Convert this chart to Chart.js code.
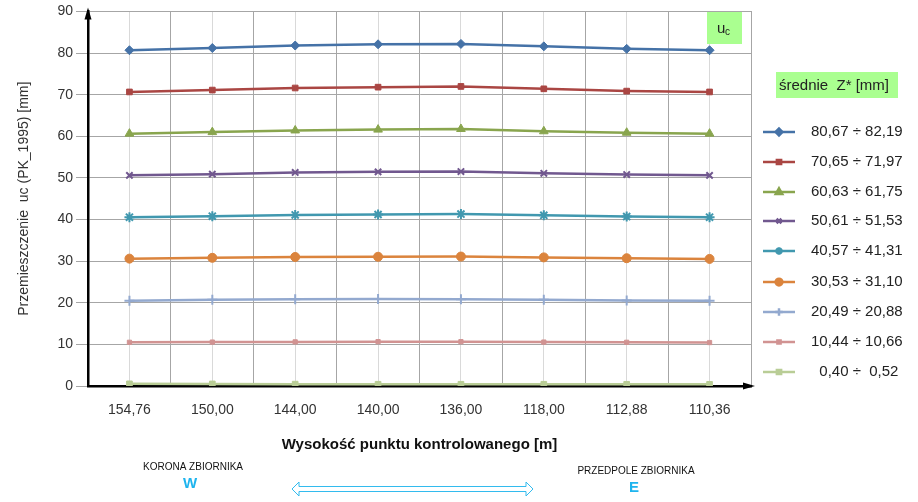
<!DOCTYPE html>
<html>
<head>
<meta charset="utf-8">
<script src="https://cdn.jsdelivr.net/npm/chart.js@4.4.1/dist/chart.umd.min.js"></script>
<style>
  html, body { margin: 0; padding: 0; background: #fff; }
  #wrap { width: 918px; height: 502px; position: relative; }
</style>
</head>
<body>
<div id="wrap"><canvas id="chart" width="918" height="502"></canvas></div>
<script>
// x categories: height of control point [m]
const heights = ['154,76', '150,00', '144,00', '140,00', '136,00', '118,00', '112,88', '110,36'];

// displacement uc for each mean Z* group [mm]
const s1 = [80.67, 81.20, 81.80, 82.10, 82.19, 81.60, 81.00, 80.67];
const s2 = [70.65, 71.10, 71.60, 71.80, 71.97, 71.40, 70.85, 70.65];
const s3 = [60.63, 61.00, 61.40, 61.60, 61.75, 61.20, 60.85, 60.63];
const s4 = [50.61, 50.90, 51.30, 51.45, 51.53, 51.10, 50.80, 50.61];
const s5 = [40.57, 40.80, 41.10, 41.20, 41.31, 41.00, 40.70, 40.57];
const s6 = [30.60, 30.80, 31.00, 31.05, 31.10, 30.90, 30.70, 30.53];
const s7 = [20.50, 20.70, 20.85, 20.88, 20.85, 20.70, 20.55, 20.49];
const s8 = [10.50, 10.55, 10.60, 10.66, 10.65, 10.55, 10.50, 10.44];
const s9 = [0.52, 0.50, 0.45, 0.42, 0.42, 0.42, 0.41, 0.40];

const seriesLabels = [
  '80,67 ÷ 82,19', '70,65 ÷ 71,97', '60,63 ÷ 61,75',
  '50,61 ÷ 51,53', '40,57 ÷ 41,31', '30,53 ÷ 31,10',
  '20,49 ÷ 20,88', '10,44 ÷ 10,66', '  0,40 ÷  0,52'
];
const yTicks = [0, 10, 20, 30, 40, 50, 60, 70, 80, 90];

const colors = ['#4572A7', '#AA4643', '#89A54E', '#71588F', '#4198AF', '#DB843D', '#93A9CF', '#D19392', '#B9CD96'];
const markers = ['rectRot', 'rect', 'triangle', 'crossRot', 'star', 'circle', 'cross', 'rect', 'rect'];
const markerSize = [4.5, 4, 5, 4.5, 5, 4.5, 5, 3, 4];

const FONT = '"Liberation Sans", Arial, sans-serif';

function makeDataset(data, i) {
  const thin = ['cross', 'crossRot', 'star'].includes(markers[i]);
  return {
    label: seriesLabels[i],
    data: data,
    borderColor: colors[i],
    backgroundColor: colors[i],
    borderWidth: 2.5,
    pointStyle: markers[i],
    pointRadius: markerSize[i],
    pointBorderWidth: thin ? 2 : 1,
    tension: 0
  };
}

// extra drawing: axis arrows, uc box, legend, bottom annotations
const decorations = {
  id: 'decorations',
  afterDraw(chart) {
    const ctx = chart.ctx;
    const a = chart.chartArea;
    ctx.save();

    // axis arrows
    ctx.fillStyle = '#000';
    ctx.beginPath();
    ctx.moveTo(a.left, a.top - 4);
    ctx.lineTo(a.left - 3.5, a.top + 8);
    ctx.lineTo(a.left + 3.5, a.top + 8);
    ctx.closePath();
    ctx.fill();
    ctx.beginPath();
    ctx.moveTo(a.right + 4, a.bottom);
    ctx.lineTo(a.right - 8, a.bottom - 3.5);
    ctx.lineTo(a.right - 8, a.bottom + 3.5);
    ctx.closePath();
    ctx.fill();

    // uc box
    ctx.fillStyle = '#AAFF90';
    ctx.fillRect(707, 12, 35, 32);
    ctx.fillStyle = '#222';
    ctx.font = '15px ' + FONT;
    ctx.textBaseline = 'alphabetic';
    ctx.textAlign = 'left';
    ctx.fillText('u', 717, 33);
    ctx.font = '10px ' + FONT;
    ctx.fillText('c', 725, 35);

    // legend header
    ctx.fillStyle = '#AAFF90';
    ctx.fillRect(776, 72, 122, 26);
    ctx.fillStyle = '#222';
    ctx.font = '15px ' + FONT;
    ctx.textBaseline = 'middle';
    ctx.fillText('średnie  Z* [mm]', 779, 86);

    // legend entries
    const rowY = [132, 162, 192, 221, 251, 282, 312, 342, 372];
    chart.data.datasets.forEach((ds, i) => {
      const y = rowY[i];
      ctx.strokeStyle = ds.borderColor;
      ctx.lineWidth = 2.5;
      ctx.beginPath();
      ctx.moveTo(763, y);
      ctx.lineTo(795, y);
      ctx.stroke();
      ctx.fillStyle = ds.backgroundColor;
      Chart.helpers.drawPoint(ctx, {
        pointStyle: ds.pointStyle,
        radius: ds.pointRadius * 0.75,
        rotation: 0,
        borderWidth: ds.pointBorderWidth
      }, 779, y);
      ctx.fillStyle = '#222';
      ctx.font = '15px ' + FONT;
      ctx.textAlign = 'left';
      ctx.textBaseline = 'middle';
      ctx.fillText(ds.label, 811, y);
    });

    // bottom annotations
    ctx.fillStyle = '#111';
    ctx.textAlign = 'center';
    ctx.font = '10px "Liberation Sans Narrow", "Liberation Sans", sans-serif';
    ctx.fillText('KORONA ZBIORNIKA', 193, 467);
    ctx.fillText('PRZEDPOLE ZBIORNIKA', 636, 471);
    ctx.fillStyle = '#1EB4EE';
    ctx.font = 'bold 15px ' + FONT;
    ctx.fillText('W', 190, 484);
    ctx.fillText('E', 634, 488);

    // double headed outline arrow
    const x0 = 292, x1 = 533, cy = 489, sh = 2.5, hh = 7, hw = 7;
    ctx.strokeStyle = '#33BBEE';
    ctx.lineWidth = 1;
    ctx.beginPath();
    ctx.moveTo(x0, cy);
    ctx.lineTo(x0 + hw, cy - hh);
    ctx.lineTo(x0 + hw, cy - sh);
    ctx.lineTo(x1 - hw, cy - sh);
    ctx.lineTo(x1 - hw, cy - hh);
    ctx.lineTo(x1, cy);
    ctx.lineTo(x1 - hw, cy + hh);
    ctx.lineTo(x1 - hw, cy + sh);
    ctx.lineTo(x0 + hw, cy + sh);
    ctx.lineTo(x0 + hw, cy + hh);
    ctx.closePath();
    ctx.stroke();

    ctx.restore();
  }
};

const chart = new Chart(document.getElementById('chart'), {
  type: 'line',
  data: {
    labels: heights,
    datasets: [s1, s2, s3, s4, s5, s6, s7, s8, s9].map(makeDataset)
  },
  options: {
    responsive: false,
    animation: false,
    events: [],
    layout: { padding: { left: 0, right: 167, top: 11, bottom: 48 } },
    plugins: { legend: { display: false }, tooltip: { enabled: false } },
    scales: {
      x: {
        type: 'category',
        position: 'bottom',
        offset: true,
        grid: { offset: false, color: '#D9D9D9', lineWidth: 1, drawTicks: false },
        border: { color: '#000', width: 2.5 },
        ticks: { color: '#333', font: { family: FONT, size: 14 }, padding: 16, maxRotation: 0, autoSkip: false },
        title: {
          display: true,
          text: 'Wysokość punktu kontrolowanego [m]',
          color: '#111',
          font: { family: FONT, size: 15, weight: '600' },
          padding: { top: 10, bottom: 0 }
        },
        afterFit(scale) { scale.height = 68; }
      },
      x2: {
        type: 'category',
        position: 'top',
        offset: true,
        grid: { offset: true, color: '#A6A6A6', lineWidth: 1, drawTicks: false },
        border: { display: false },
        ticks: { display: false },
        afterFit(scale) { scale.height = 0; }
      },
      y: {
        min: 0,
        max: 90,
        afterBuildTicks(scale) { scale.ticks = yTicks.map(v => ({ value: v })); },
        grid: { color: '#A6A6A6', lineWidth: 1, tickLength: 12 },
        border: { color: '#000', width: 2.5 },
        ticks: { color: '#333', font: { family: FONT, size: 14 }, padding: 3 },
        title: {
          display: true,
          text: 'Przemieszczenie  uc (PK_1995) [mm]',
          color: '#333',
          font: { family: FONT, size: 14 },
          padding: { top: 16, bottom: 0 }
        },
        afterFit(scale) { scale.width = 88; }
      }
    }
  },
  plugins: [decorations]
});
</script>
</body>
</html>
